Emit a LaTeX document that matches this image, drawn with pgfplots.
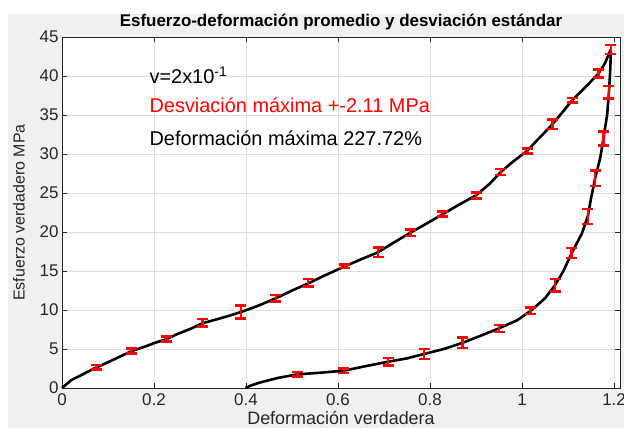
\documentclass[border=0pt]{standalone}
\usepackage{fontspec}
\setmainfont{Liberation Sans}
\usepackage{pgfplots}
\pgfplotsset{compat=1.18}
\definecolor{mgray}{RGB}{38,38,38}
\definecolor{figbg}{RGB}{240,240,240}
\definecolor{mred}{RGB}{255,0,0}

\begin{document}
\begin{tikzpicture}
\useasboundingbox (0bp,0bp) rectangle (624bp,428bp);
\fill[white] (0bp,0bp) rectangle (624bp,428bp);
\fill[figbg] (8bp,0bp) rectangle (624bp,414bp);
\begin{axis}[
  at={(62bp,40bp)}, anchor=south west,
  scale only axis, width=558bp, height=351bp,
  xmin=0, xmax=1.213, ymin=0, ymax=45,
  xtick={0,0.2,...,1.2}, ytick={0,5,...,45},
  xticklabels={0,0.2,0.4,0.6,0.8,1,1.2},
  axis background/.style={fill=white},
  axis line style={mgray, line width=0.6pt},
  tick style={mgray, line width=0.6pt}, tick align=inside, ticks=both,
  major tick length=5bp,
  grid=major, grid style={black!13, line width=0.5pt},
  /pgf/number format/assume math mode=true,
  tick label style={font=\fontsize{17}{19}\selectfont, text=mgray},
  xticklabel style={yshift=-2bp},
  title={Esfuerzo-deformación promedio y desviación estándar},
  title style={font=\bfseries\fontsize{17}{19}\selectfont, yshift=-3bp},
  xlabel={Deformación verdadera},
  xlabel style={font=\fontsize{18}{20}\selectfont, text=mgray, yshift=1bp},
  ylabel={Esfuerzo verdadero MPa},
  ylabel style={font=\fontsize{16}{18}\selectfont, text=mgray, yshift=8bp},
  clip=false,
]
% curva de carga
\addplot[black, line width=2.6pt, line join=round] coordinates {
(0,0) (0.01,0.5) (0.02,1.0) (0.04,1.6) (0.06,2.2) (0.0754,2.65) (0.1,3.3)
(0.125,4.0) (0.1515,4.74) (0.18,5.3) (0.2,5.75) (0.2276,6.28) (0.25,6.9)
(0.28,7.6) (0.305,8.3) (0.33,8.7) (0.36,9.2) (0.389,9.74) (0.42,10.4)
(0.445,11.0) (0.465,11.5) (0.5,12.5) (0.535,13.4) (0.57,14.4) (0.6,15.2)
(0.615,15.6) (0.65,16.5) (0.687,17.4) (0.72,18.6) (0.757,19.9) (0.79,21.0)
(0.828,22.3) (0.86,23.4) (0.9,24.7) (0.93,26.2) (0.954,27.7) (0.98,29.0)
(1.011,30.4) (1.04,32.2) (1.066,33.8) (1.09,35.5) (1.109,36.9) (1.14,38.7)
(1.166,40.3) (1.18,41.6) (1.193,43.4)};
% curva de descarga
\addplot[black, line width=2.6pt, line join=round] coordinates {
(1.193,43.3) (1.192,41) (1.189,37.9) (1.185,35) (1.177,32.0) (1.17,29.5)
(1.159,26.9) (1.15,24.3) (1.143,22.0) (1.13,19.8) (1.108,17.3) (1.09,15.0)
(1.072,13.2) (1.05,11.5) (1.019,9.9) (0.99,8.7) (0.95,7.65) (0.91,6.7)
(0.871,5.8) (0.83,5.0) (0.787,4.36) (0.75,3.8) (0.709,3.37) (0.66,2.8)
(0.613,2.22) (0.56,1.95) (0.512,1.75) (0.47,1.3) (0.43,0.7) (0.41,0.3)
(0.399,0)};
% desviacion estandar
\addplot[draw=none, mark=none,
  error bars/.cd, y dir=both, y explicit,
  error bar style={mred, line width=2.6pt},
  error mark options={mred, line width=2.6pt, rotate=90, mark size=5.5bp}]
coordinates {
(0.0754,2.65) +- (0,0.3) (0.1515,4.74) +- (0,0.35) (0.2276,6.28) +- (0,0.3)
(0.305,8.37) +- (0,0.45) (0.389,9.74) +- (0,0.85) (0.465,11.5) +- (0,0.4)
(0.535,13.5) +- (0,0.5) (0.615,15.6) +- (0,0.2) (0.687,17.4) +- (0,0.6)
(0.757,19.9) +- (0,0.4) (0.828,22.3) +- (0,0.3) (0.9,24.7) +- (0,0.4)
(0.954,27.7) +- (0,0.4) (1.011,30.4) +- (0,0.3) (1.066,33.8) +- (0,0.6)
(1.109,36.9) +- (0,0.3) (1.166,40.3) +- (0,0.5) (1.193,43.4) +- (0,0.6)
(1.189,37.9) +- (0,0.8) (1.177,32.0) +- (0,0.9) (1.159,26.9) +- (0,1.0)
(1.143,22.0) +- (0,0.95) (1.108,17.3) +- (0,0.65) (1.072,13.2) +- (0,0.8)
(1.019,9.9) +- (0,0.4) (0.95,7.65) +- (0,0.45) (0.871,5.8) +- (0,0.65)
(0.787,4.36) +- (0,0.65) (0.709,3.37) +- (0,0.45) (0.613,2.22) +- (0,0.3)
(0.512,1.75) +- (0,0.3)};
\node[anchor=west, font=\fontsize{20}{22}\selectfont, inner sep=0pt] at (axis cs:0.19,40.1) {v=2x10\textsuperscript{-1}};
\node[anchor=west, font=\fontsize{20}{22}\selectfont, text=mred, inner sep=0pt] at (axis cs:0.19,36.3) {Desviación máxima +-2.11 MPa};
\node[anchor=west, font=\fontsize{20}{22}\selectfont, inner sep=0pt] at (axis cs:0.19,32.05) {Deformación máxima 227.72\%};
\end{axis}
\end{tikzpicture}
\end{document}
